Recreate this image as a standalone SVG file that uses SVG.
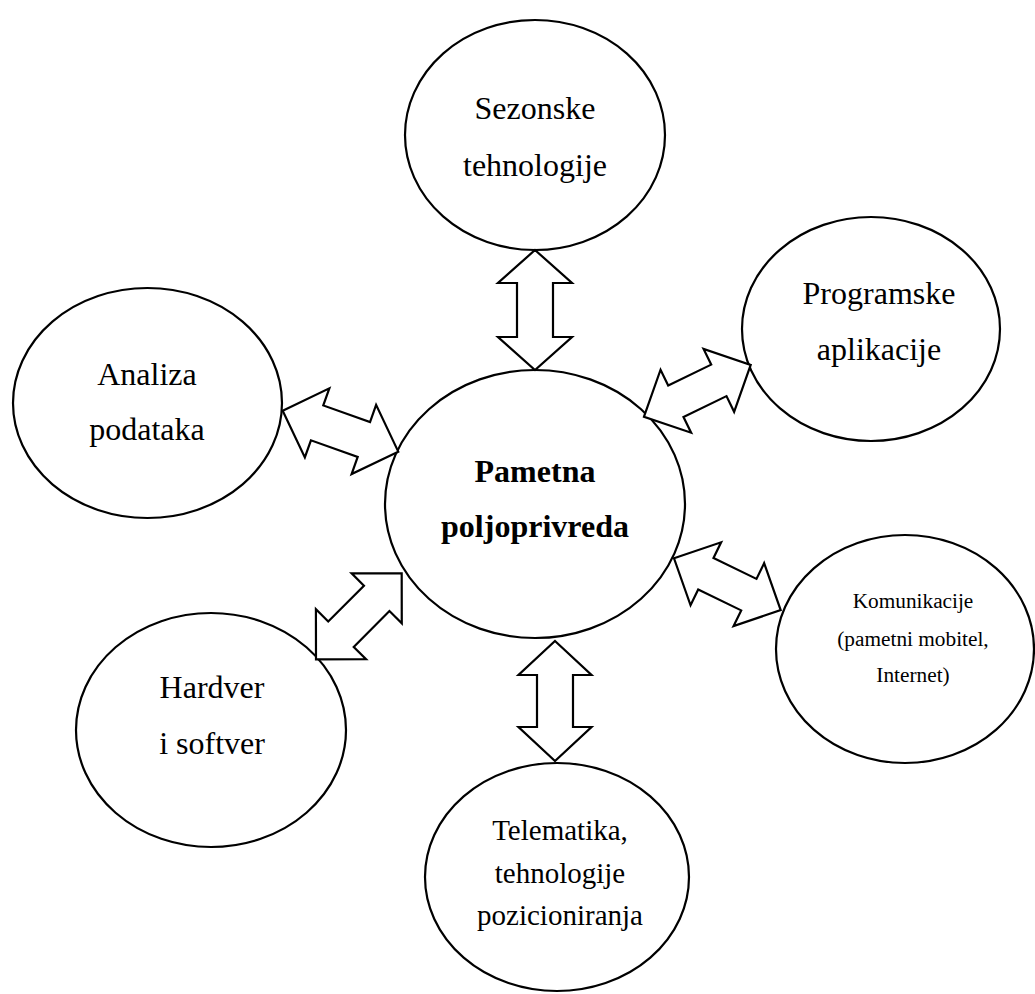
<svg xmlns="http://www.w3.org/2000/svg" width="1035" height="994" viewBox="0 0 1035 994">
<style>
.node{fill:#fff;stroke:#000;stroke-width:2.2}
.arr{fill:#fff;stroke:#000;stroke-width:2.2;stroke-linejoin:miter}
text{font-family:"Liberation Serif","Times New Roman",serif;fill:#000;text-anchor:middle}
.t32{font-size:32px}
.t29{font-size:29px}
.t21{font-size:21.3px}
.b{font-weight:bold;font-size:32px}
</style>
<rect width="1035" height="994" fill="#fff"/>
<g id="n-sezonske"><ellipse class="node" cx="535" cy="135" rx="130" ry="115"/><text class="t32" x="535" y="119">Sezonske</text><text class="t32" x="535" y="176">tehnologije</text></g>
<g id="n-programske"><ellipse class="node" cx="871" cy="329" rx="129" ry="112"/><text class="t32" x="879" y="304">Programske</text><text class="t32" x="879" y="360">aplikacije</text></g>
<g id="n-analiza"><ellipse class="node" cx="147.5" cy="403" rx="134.5" ry="115"/><text class="t32" x="147" y="385">Analiza</text><text class="t32" x="147" y="440">podataka</text></g>
<g id="n-hardver"><ellipse class="node" cx="211" cy="730" rx="135" ry="117"/><text class="t32" x="212" y="698">Hardver</text><text class="t32" x="212" y="754">i softver</text></g>
<g id="n-komunikacije"><ellipse class="node" cx="905" cy="649" rx="129" ry="114"/><text class="t21" x="913" y="608">Komunikacije</text><text class="t21" x="913" y="646">(pametni mobitel,</text><text class="t21" x="913" y="682">Internet)</text></g>
<g id="n-telematika"><ellipse class="node" cx="557" cy="877" rx="132" ry="114"/><text class="t29" x="560" y="840">Telematika,</text><text class="t29" x="560" y="883">tehnologije</text><text class="t29" x="560" y="925">pozicioniranja</text></g>
<g id="n-pametna"><ellipse class="node" cx="535" cy="504" rx="150" ry="134"/><text class="b" x="535" y="482">Pametna</text><text class="b" x="535" y="537">poljoprivreda</text></g>
<g id="connectors">
<polygon class="arr" transform="translate(535,250) rotate(90)" points="0,0 33,-37 33,-18 87,-18 87,-37 120,0 87,37 87,18 33,18 33,37"/>
<polygon class="arr" transform="translate(555,641) rotate(90)" points="0,0 34,-36.5 34,-18 86,-18 86,-36.5 120,0 86,36.5 86,18 34,18 34,36.5"/>
<polygon class="arr" transform="translate(282.7,410.7) rotate(19.5)" points="0,0 36.5,-36.7 36.5,-18.5 86.1,-18.5 86.1,-36.7 122.6,0 86.1,36.7 86.1,18.5 36.5,18.5 36.5,36.7"/>
<polygon class="arr" transform="translate(644,416.7) rotate(-25.9)" points="0,0 35.4,-35 35.4,-17.5 83.2,-17.5 83.2,-35 118.6,0 83.2,35 83.2,17.5 35.4,17.5 35.4,35"/>
<polygon class="arr" transform="translate(316,659.3) rotate(-45.1)" points="0,0 35.4,-35.4 35.4,-18 86,-18 86,-35.4 121.4,0 86,35.4 86,18 35.4,18 35.4,35.4"/>
<polygon class="arr" transform="translate(674,558.3) rotate(25.9)" points="0,0 35.4,-35 35.4,-17.5 83.2,-17.5 83.2,-35 118.6,0 83.2,35 83.2,17.5 35.4,17.5 35.4,35"/>
</g>
</svg>
